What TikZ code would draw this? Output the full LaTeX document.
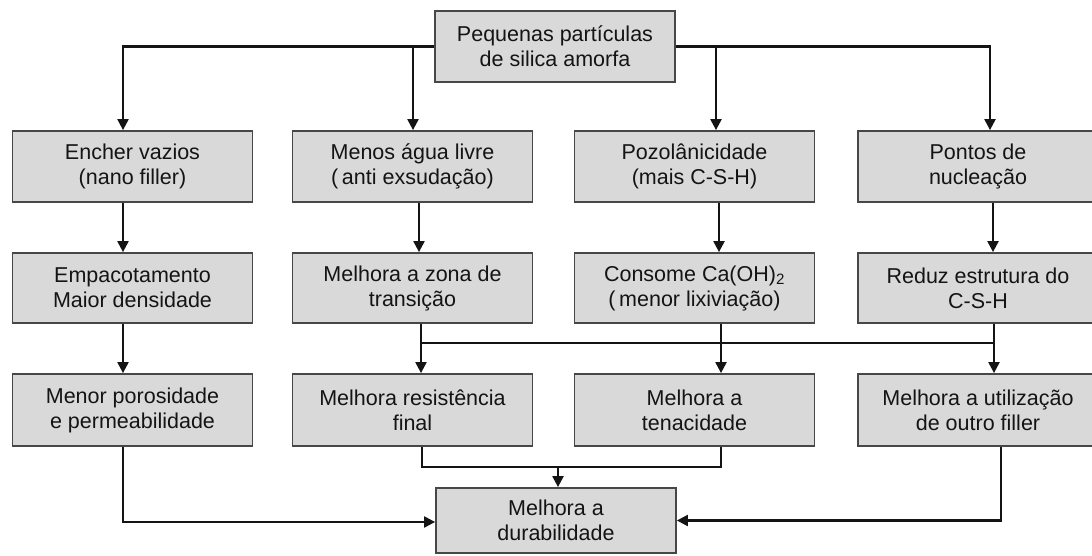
\documentclass[tikz,border=0pt]{standalone}
\usepackage{fontspec}
\setmainfont{Liberation Sans}
\usetikzlibrary{arrows.meta}
\begin{document}
\begin{tikzpicture}[x=1pt,y=-1pt,
  box/.style={draw=black!72, fill=black!15, line width=1.8pt, minimum width=240pt,
    align=center, inner sep=0pt, text=black!92, font=\fontsize{21.5}{25}\selectfont},
  conn/.style={line width=2.2pt, draw=black!92},
  arr/.style={conn, -{Triangle[width=11pt,length=11pt]}}]
\useasboundingbox (0,0) rectangle (1092,556);

% nodes
\node[box, minimum height=71pt] (top) at (555,46.5) {Pequenas partículas\\de silica amorfa};

\node[box, minimum height=71pt] (a1) at (132.5,166.5) {Encher vazios\\(nano filler)};
\node[box, minimum height=71pt] (a2) at (412.5,166.5) {Menos água livre\\(\,anti exsudação)};
\node[box, minimum height=71pt] (a3) at (694.5,166.5) {Pozolânicidade\\(mais C-S-H)};
\node[box, minimum height=71pt] (a4) at (978,166.5) {Pontos de\\nucleação};

\node[box, minimum height=70pt] (b1) at (132.5,288) {Empacotamento\\Maior densidade};
\node[box, minimum height=70pt] (b2) at (412.5,288) {Melhora a zona de\\transição};
\node[box, minimum height=70pt] (b3) at (694.5,288) {Consome Ca(OH)\textsubscript{2}\\(\,menor lixiviação)};
\node[box, minimum height=70pt] (b4) at (978,288) {Reduz estrutura do\\C-S-H};

\node[box, minimum height=72pt] (c1) at (132.5,410) {Menor porosidade\\e permeabilidade};
\node[box, minimum height=72pt] (c2) at (412.5,410) {Melhora resistência\\final};
\node[box, minimum height=72pt] (c3) at (694.5,410) {Melhora a\\tenacidade};
\node[box, minimum height=72pt] (c4) at (978,410) {Melhora a utilização\\de outro filler};

\node[box, minimum height=65pt] (d) at (556,520.5) {Melhora a\\durabilidade};

% column positions of connectors
\coordinate (k1) at (123,0);
\coordinate (k2a) at (413,0);
\coordinate (k2b) at (419,0);
\coordinate (k2c) at (421,0);
\coordinate (k2d) at (422,0);
\coordinate (k3a) at (716,0);
\coordinate (k3b) at (719,0);
\coordinate (k3c) at (721,0);
\coordinate (k4a) at (990,0);
\coordinate (k4b) at (993,0);
\coordinate (k4c) at (994,0);
\coordinate (k4d) at (1001,0);
\coordinate (bus) at (0,343);
\coordinate (join) at (0,467);
\coordinate (kd) at (558,0);

% from top box
\draw[arr] (top.west) -| (k1 |- a1.north);
\draw[arr] (k2a |- top.west) -- (k2a |- a2.north);
\draw[arr] (top.east) -| (k4a |- a4.north);
\draw[arr] (k3a |- top.east) -- (k3a |- a3.north);

% row 2 -> row 3
\draw[arr] (k1 |- a1.south) -- (k1 |- b1.north);
\draw[arr] (k2b |- a2.south) -- (k2b |- b2.north);
\draw[arr] (k3b |- a3.south) -- (k3b |- b3.north);
\draw[arr] (k4b |- a4.south) -- (k4b |- b4.north);

% row 3 -> row 4
\draw[arr] (k1 |- b1.south) -- (k1 |- c1.north);
\draw[conn] (k2c |- bus) -- (k4c |- bus);
\draw[arr] (k2c |- b2.south) -- (k2c |- c2.north);
\draw[arr] (k3c |- b3.south) -- (k3c |- c3.north);
\draw[arr] (k4c |- b4.south) -- (k4c |- c4.north);

% row 4 -> final
\draw[conn] (k2d |- c2.south) |- (k3c |- join) -- (k3c |- c3.south);
\draw[arr] (kd |- join) -- (kd |- d.north);
\draw[arr] (k1 |- c1.south) |- ([yshift=-1.5pt]d.west);
\draw[arr] (k4d |- c4.south) |- (d.east);
\end{tikzpicture}
\end{document}
